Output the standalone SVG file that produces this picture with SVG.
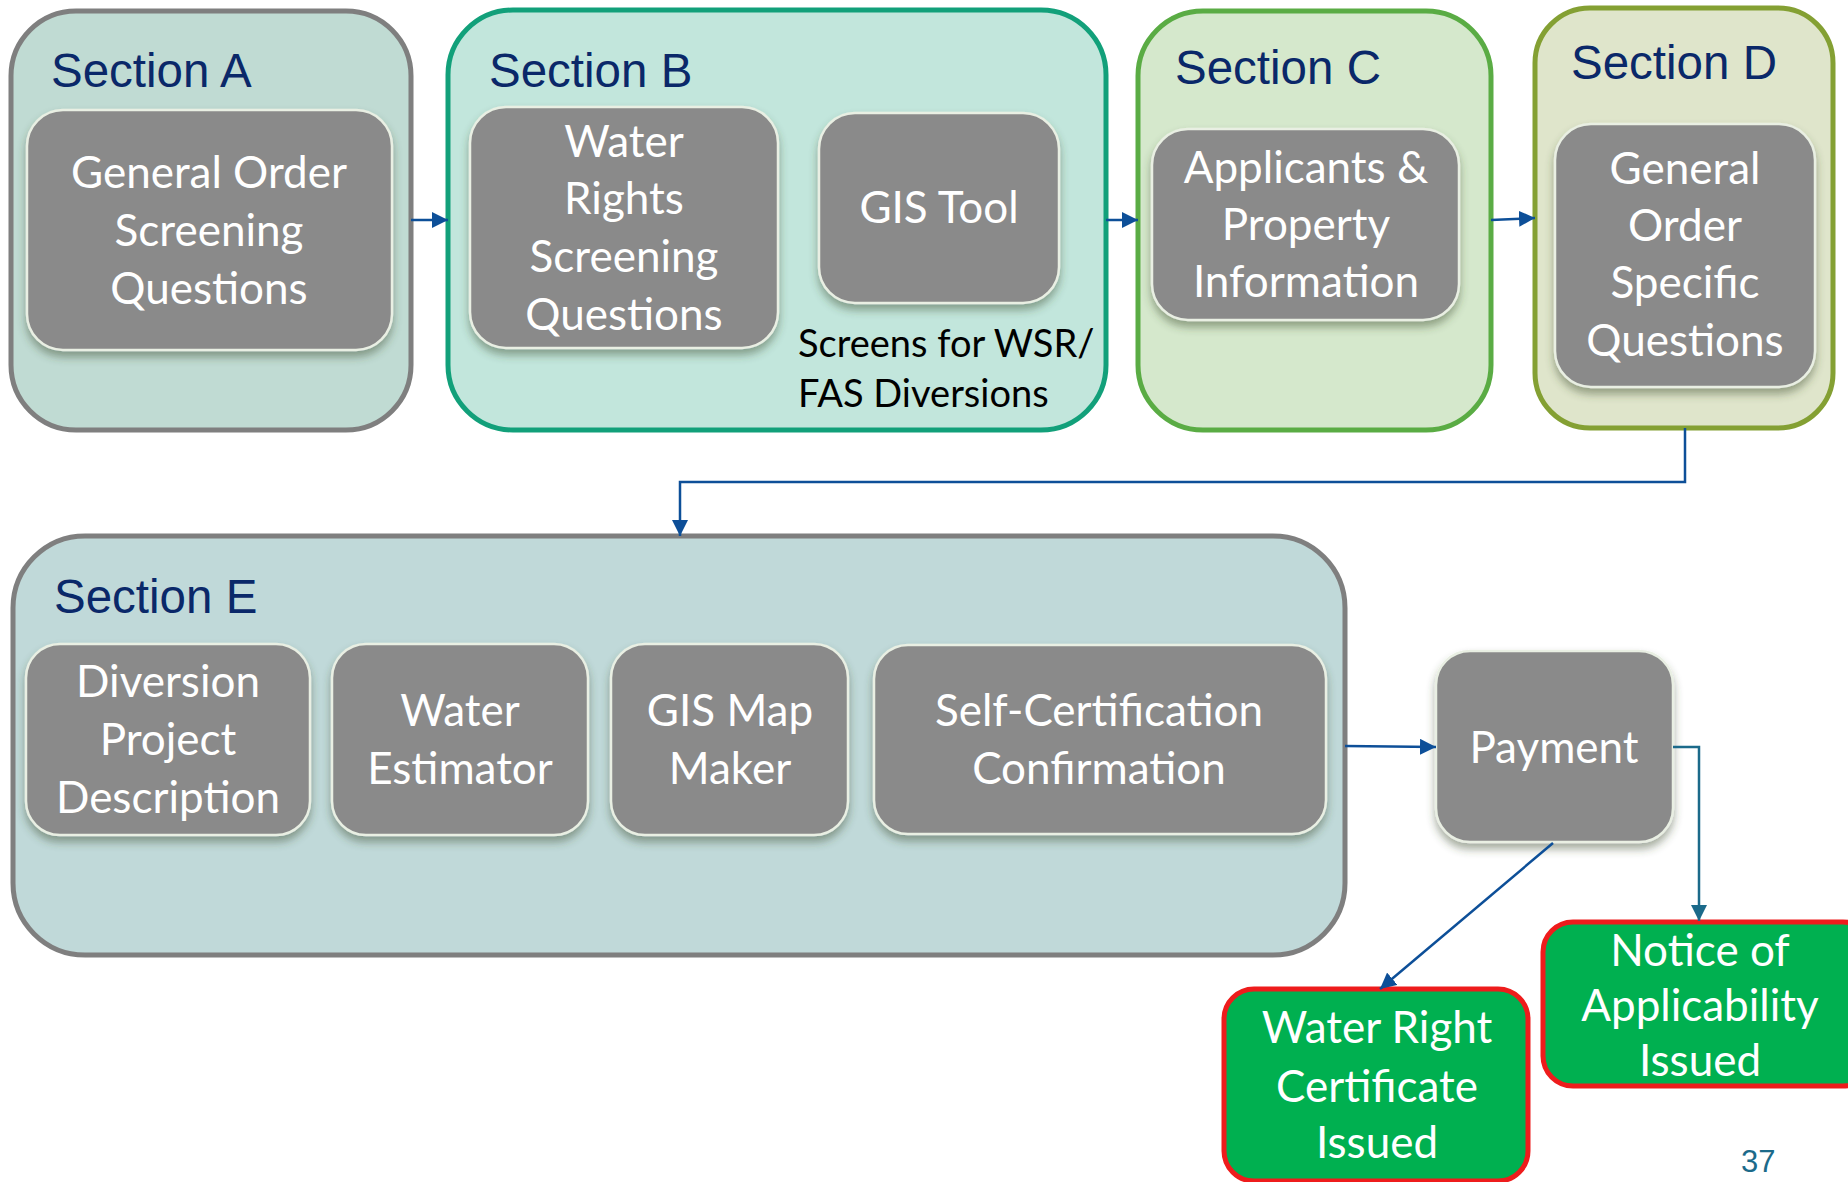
<svg xmlns="http://www.w3.org/2000/svg" width="1848" height="1182" viewBox="0 0 1848 1182">
<defs>
<style>
.sec{stroke-width:5}
.title{font-family:"Liberation Sans",Arial,sans-serif;font-size:47.5px;fill:#0a2869}
.box{fill:#8a8a8a;stroke:#e9efe3;stroke-width:2.5;filter:url(#sh)}
.bt{font-family:Lato,"Open Sans",sans-serif;font-size:44px;fill:#ffffff;text-anchor:middle}
.note{font-family:Lato,"Open Sans",sans-serif;font-size:38px;fill:#000000}
.gbox{fill:#00b050;stroke:#ee1c1c;stroke-width:5}
.con{fill:none;stroke:#0d4f98;stroke-width:2.5}
</style>
<filter id="sh" x="-10%" y="-10%" width="120%" height="130%">
<feDropShadow dx="0" dy="6" stdDeviation="4" flood-color="#3d4a2a" flood-opacity="0.45"/>
</filter>
<marker id="ar" markerUnits="userSpaceOnUse" markerWidth="18" markerHeight="16" refX="16" refY="8" orient="auto">
<path d="M0,0 L16,8 L0,16 Z" fill="#0d4f98"/>
</marker>
<marker id="ar2" markerUnits="userSpaceOnUse" markerWidth="18" markerHeight="16" refX="16" refY="8" orient="auto">
<path d="M0,0 L16,8 L0,16 Z" fill="#1b6a8a"/>
</marker>
</defs>
<rect width="1848" height="1182" fill="#ffffff"/>

<g id="sectionA">
<rect class="sec" x="11" y="11" width="400" height="419" rx="65" fill="#c0dbd3" stroke="#7f7f7f"/>
<text class="title" x="51" y="87">Section A</text>
<g id="nodeA1">
<rect class="box" x="27" y="110" width="365" height="240" rx="36"/>
<text class="bt" x="209" y="188">General Order</text>
<text class="bt" x="209" y="246">Screening</text>
<text class="bt" x="209" y="304">Questions</text>
</g>
</g>

<g id="sectionB">
<rect class="sec" x="448" y="10" width="658" height="420" rx="65" fill="#c2e6dc" stroke="#12a07a"/>
<text class="title" x="489" y="87">Section B</text>
<g id="nodeB1">
<rect class="box" x="470" y="107" width="308" height="241" rx="36"/>
<text class="bt" x="624" y="157">Water</text>
<text class="bt" x="624" y="214">Rights</text>
<text class="bt" x="624" y="272">Screening</text>
<text class="bt" x="624" y="330">Questions</text>
</g>
<g id="nodeB2">
<rect class="box" x="819" y="113" width="240" height="190" rx="36"/>
<text class="bt" x="939" y="223">GIS Tool</text>
</g>
<text class="note" x="798" y="357">Screens for WSR/</text>
<text class="note" x="798" y="407">FAS Diversions</text>
</g>

<g id="sectionC">
<rect class="sec" x="1138" y="11" width="353" height="419" rx="65" fill="#d5e8cc" stroke="#5aac44"/>
<text class="title" x="1175" y="84">Section C</text>
<g id="nodeC1">
<rect class="box" x="1152" y="129" width="307" height="191" rx="36"/>
<text class="bt" x="1306" y="183">Applicants &amp;</text>
<text class="bt" x="1306" y="240">Property</text>
<text class="bt" x="1306" y="297">Information</text>
</g>
</g>

<g id="sectionD">
<rect class="sec" x="1535" y="8" width="298" height="420" rx="55" fill="#dfe5cb" stroke="#84a033"/>
<text class="title" x="1571" y="79">Section D</text>
<g id="nodeD1">
<rect class="box" x="1555" y="124" width="260" height="263" rx="36"/>
<text class="bt" x="1685" y="184">General</text>
<text class="bt" x="1685" y="241">Order</text>
<text class="bt" x="1685" y="298">Specific</text>
<text class="bt" x="1685" y="356">Questions</text>
</g>
</g>

<g id="sectionE">
<rect class="sec" x="13" y="536" width="1332" height="419" rx="72" fill="#c0d9d9" stroke="#7f7f7f"/>
<text class="title" x="54" y="613">Section E</text>
<g id="nodeE1">
<rect class="box" x="26" y="644" width="284" height="191" rx="34"/>
<text class="bt" x="168" y="697">Diversion</text>
<text class="bt" x="168" y="755">Project</text>
<text class="bt" x="168" y="813">Description</text>
</g>
<g id="nodeE2">
<rect class="box" x="332" y="644" width="256" height="191" rx="34"/>
<text class="bt" x="460" y="726">Water</text>
<text class="bt" x="460" y="784">Estimator</text>
</g>
<g id="nodeE3">
<rect class="box" x="611" y="644" width="237" height="191" rx="34"/>
<text class="bt" x="730" y="726">GIS Map</text>
<text class="bt" x="730" y="784">Maker</text>
</g>
<g id="nodeE4">
<rect class="box" x="874" y="645" width="452" height="189" rx="34"/>
<text class="bt" x="1099" y="726">Self-Certification</text>
<text class="bt" x="1099" y="784">Confirmation</text>
</g>
</g>

<g id="payment">
<rect class="box" x="1436" y="651" width="237" height="191" rx="34"/>
<text class="bt" x="1554" y="763">Payment</text>
</g>

<g id="waterRight">
<rect class="gbox" x="1224" y="989" width="304" height="192" rx="30"/>
<text class="bt" x="1377" y="1043">Water Right</text>
<text class="bt" x="1377" y="1102">Certificate</text>
<text class="bt" x="1377" y="1158">Issued</text>
</g>

<g id="notice">
<rect class="gbox" x="1543" y="922" width="330" height="164" rx="30"/>
<text class="bt" x="1700" y="966">Notice of</text>
<text class="bt" x="1700" y="1021">Applicability</text>
<text class="bt" x="1700" y="1076">Issued</text>
</g>

<g id="connectors">
<line class="con" x1="411" y1="220" x2="448" y2="220" marker-end="url(#ar)"/>
<line class="con" x1="1106" y1="220" x2="1138" y2="220" marker-end="url(#ar)"/>
<line class="con" x1="1491" y1="220" x2="1535" y2="218" marker-end="url(#ar)"/>
<polyline class="con" points="1685,428 1685,482 680,482 680,536" marker-end="url(#ar)"/>
<line class="con" x1="1345" y1="746" x2="1436" y2="747" marker-end="url(#ar)"/>
<polyline class="con" points="1673,747 1699,747 1699,921" style="stroke:#1b6a8a" marker-end="url(#ar2)"/>
<line class="con" x1="1553" y1="843" x2="1380" y2="989" marker-end="url(#ar)"/>
</g>

<text x="1741" y="1172" font-family="'Liberation Sans',Arial,sans-serif" font-size="31" fill="#1c6a8a">37</text>
</svg>
